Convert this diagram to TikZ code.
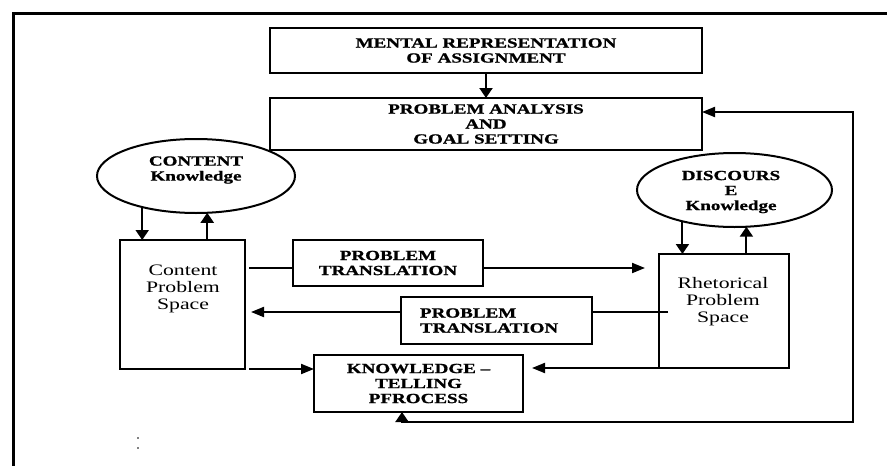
\documentclass[tikz,border=0pt]{standalone}
\usepackage{fontspec}
\setmainfont{Liberation Serif}[FakeStretch=1.36, BoldFeatures={FakeBold=1}]
\usetikzlibrary{arrows.meta,shapes.geometric}
\tikzset{
  box/.style={draw, line width=2pt, inner sep=0pt, outer sep=0pt},
  oval/.style={draw, ellipse, line width=2pt, inner sep=0pt, outer sep=0pt},
  bl/.style={font=\fontsize{14}{15}\selectfont\bfseries, align=center},
  rl/.style={font=\fontsize{16}{17}\selectfont, align=center},
  link/.style={line width=2pt},
  varr/.style={link, -{Triangle[length=10pt,width=13pt]}},
  harr/.style={link, -{Triangle[length=13pt,width=10pt]}},
  frame/.style={line width=3pt}
}
\begin{document}
\begin{tikzpicture}[x=1pt,y=-1pt]
\useasboundingbox (0,0) rectangle (887,466);
% page frame
\draw[frame] (887,13) -- (13,13) -- (13,466);
\fill (138,438) circle (0.9pt) (138,448) circle (0.9pt);

% boxes
\node[box, bl, minimum width=432pt, minimum height=45pt] (mra) at (486,50.5)
  {MENTAL REPRESENTATION\\OF ASSIGNMENT};
\node[box, bl, minimum width=432pt, minimum height=52pt] (pags) at (486,124)
  {PROBLEM ANALYSIS\\AND\\GOAL SETTING};
\node[box, minimum width=125pt, minimum height=129pt] (cps) at (182.5,304.5) {};
\node[rl] (cpst) at (183,289) {Content\\Problem\\Space};
\node[box, bl, minimum width=190pt, minimum height=46pt] (pt1) at (388,263)
  {PROBLEM\\TRANSLATION};
\node[box, bl, align=left, text width=153pt, inner xsep=19pt, minimum height=47pt] (pt2) at (496.5,320.5)
  {PROBLEM\\TRANSLATION};
\node[box, bl, minimum width=209pt, minimum height=57pt] (ktp) at (418.5,383.5)
  {KNOWLEDGE –\\TELLING\\PFROCESS};
\node[box, minimum width=130pt, minimum height=114pt] (rps) at (724,311) {};
\node[rl] (rpst) at (723,302) {Rhetorical\\Problem\\Space};

% ellipses
\node[oval, minimum width=198pt, minimum height=74pt] (ck) at (196,176) {};
\node[bl] (ckt) at (196,170) {CONTENT\\Knowledge};
\node[oval, minimum width=195pt, minimum height=74pt] (dk) at (734.5,190) {};
\node[bl] (dkt) at (731,192) {DISCOURS\\E\\Knowledge};

% connectors
\draw[varr] (mra) -- (pags);
\draw[varr] (ck.210) -- (ck.210 |- cps.north);
\draw[varr] (cps.north -| ck.287) -- (ck.287);
\draw[varr] (dk.211) -- (dk.211 |- rps.north);
\draw[varr] (rps.north -| dk.288) -- (dk.288);

\draw[link] ([xshift=4pt,yshift=-5pt]cps.east |- pt1.west) -- ([yshift=-5pt]pt1.west);
\draw[harr, shorten >=14pt] ([yshift=-5pt]pt1.east) -- ([yshift=-5pt]pt1.east -| rps.west);

\draw[link] ([xshift=9pt,yshift=8.5pt]rps.west |- pt2.east) -- ([yshift=8.5pt]pt2.east);
\draw[harr, shorten >=6pt] ([yshift=8.5pt]pt2.west) -- ([yshift=8.5pt]pt2.west -| cps.east);

\draw[harr] ([xshift=4pt]cps.south east) -- (cps.south east -| ktp.west);
\draw[harr, shorten >=9pt] (rps.south west) -- (rps.south west -| ktp.east);

\coordinate (fbr) at (853,422);
\draw[link, {Triangle[length=10pt,width=13pt]}-{Triangle[length=13pt,width=10pt]}]
  ([xshift=-16.5pt]ktp.south) |- (fbr) |- ([yshift=12pt]pags.east);
\end{tikzpicture}
\end{document}
